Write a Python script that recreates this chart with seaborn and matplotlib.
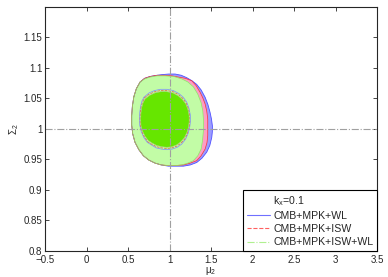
import matplotlib
matplotlib.use("Agg")
import matplotlib.pyplot as plt
import seaborn as sns
import pandas as pd

# outer (95%) contour boundaries
wl_outer_x = [0.570, 0.600, 0.645, 0.700, 0.765, 0.850, 0.906, 0.990, 1.066, 1.140, 1.207,
              1.270, 1.327, 1.380, 1.428, 1.462, 1.488, 1.505, 1.516, 1.515, 1.508, 1.485,
              1.448, 1.390, 1.327, 1.250, 1.167, 1.070, 0.986, 0.900, 0.825, 0.750,
              0.685, 0.630, 0.584, 0.556, 0.544, 0.544, 0.552]
wl_outer_y = [1.053, 1.066, 1.077, 1.083, 1.086, 1.088, 1.089, 1.090, 1.090, 1.088, 1.084,
              1.079, 1.073, 1.064, 1.052, 1.040, 1.027, 1.016, 1.005, 0.995, 0.986, 0.973,
              0.962, 0.952, 0.945, 0.941, 0.939, 0.939, 0.939, 0.941, 0.944, 0.949,
              0.956, 0.966, 0.978, 0.992, 1.006, 1.022, 1.037]

isw_outer_x = [0.570, 0.600, 0.645, 0.700, 0.765, 0.850, 0.946, 1.030, 1.106, 1.190, 1.267,
               1.320, 1.368, 1.400, 1.428, 1.448, 1.460, 1.460, 1.450, 1.428, 1.380,
               1.327, 1.250, 1.167, 1.070, 0.986, 0.900, 0.825, 0.750, 0.685, 0.630,
               0.584, 0.556, 0.544, 0.544, 0.552]
isw_outer_y = [1.053, 1.066, 1.077, 1.083, 1.086, 1.088, 1.088, 1.087, 1.085, 1.083, 1.079,
               1.071, 1.060, 1.051, 1.041, 1.029, 1.016, 0.989, 0.977, 0.967, 0.956,
               0.948, 0.944, 0.941, 0.940, 0.940, 0.941, 0.944, 0.949, 0.956, 0.966,
               0.978, 0.992, 1.006, 1.022, 1.037]

all_outer_x = [0.570, 0.600, 0.645, 0.700, 0.765, 0.850, 0.946, 1.050, 1.147, 1.220, 1.287,
               1.340, 1.380, 1.400, 1.408, 1.408, 1.398, 1.380, 1.340, 1.287, 1.220,
               1.147, 1.070, 0.986, 0.900, 0.825, 0.750, 0.685, 0.630, 0.584, 0.556,
               0.544, 0.544, 0.552]
all_outer_y = [1.053, 1.066, 1.077, 1.082, 1.085, 1.087, 1.087, 1.086, 1.082, 1.077, 1.069,
               1.057, 1.043, 1.030, 1.015, 0.998, 0.982, 0.967, 0.956, 0.948, 0.944,
               0.941, 0.940, 0.940, 0.941, 0.944, 0.949, 0.956, 0.966, 0.978, 0.992,
               1.006, 1.022, 1.037]

# inner (68%) contour boundaries
wl_inner_x = [0.692, 0.752, 0.820, 0.893, 0.967, 1.044, 1.113, 1.165, 1.207, 1.234, 1.250,
              1.251, 1.242, 1.222, 1.192, 1.145, 1.093, 1.033, 0.966, 0.902, 0.838,
              0.779, 0.732, 0.690, 0.658, 0.641, 0.638, 0.641, 0.651, 0.668]
wl_inner_y = [1.052, 1.059, 1.063, 1.065, 1.065, 1.063, 1.058, 1.052, 1.044, 1.034, 1.023,
              1.012, 1.002, 0.992, 0.983, 0.975, 0.970, 0.967, 0.966, 0.967, 0.969,
              0.974, 0.978, 0.986, 0.996, 1.006, 1.016, 1.027, 1.037, 1.046]

isw_inner_x = [0.698, 0.756, 0.822, 0.894, 0.966, 1.042, 1.110, 1.160, 1.201, 1.227, 1.242,
               1.243, 1.234, 1.215, 1.185, 1.140, 1.089, 1.031, 0.966, 0.903, 0.841,
               0.784, 0.738, 0.697, 0.665, 0.648, 0.645, 0.648, 0.658, 0.675]
isw_inner_y = [1.051, 1.057, 1.061, 1.063, 1.063, 1.061, 1.056, 1.050, 1.042, 1.033, 1.022,
               1.012, 1.002, 0.993, 0.984, 0.977, 0.972, 0.969, 0.968, 0.969, 0.971,
               0.975, 0.979, 0.987, 0.996, 1.006, 1.016, 1.026, 1.036, 1.044]

all_inner_x = [0.705, 0.760, 0.825, 0.895, 0.966, 1.040, 1.106, 1.155, 1.195, 1.220, 1.235,
               1.236, 1.227, 1.208, 1.179, 1.135, 1.086, 1.030, 0.966, 0.905, 0.845,
               0.790, 0.745, 0.705, 0.673, 0.656, 0.653, 0.656, 0.665, 0.682]
all_inner_y = [1.049, 1.055, 1.059, 1.061, 1.061, 1.059, 1.054, 1.048, 1.041, 1.032, 1.022,
               1.012, 1.003, 0.994, 0.986, 0.979, 0.974, 0.971, 0.970, 0.971, 0.973,
               0.977, 0.981, 0.988, 0.997, 1.006, 1.016, 1.026, 1.035, 1.043]

labels = ["CMB+MPK+WL", "CMB+MPK+ISW", "CMB+MPK+ISW+WL"]
legend_title = "$\\mathregular{k_x}$=0.1"
ref_mu, ref_sigma = 1.0, 1.0

sns.set_style("ticks")
plt.rcParams["font.family"] = ["Liberation Sans", "DejaVu Sans"]
plt.rcParams["xtick.direction"] = "in"
plt.rcParams["ytick.direction"] = "in"

fig = plt.figure(figsize=(3.88, 2.77), dpi=100)
ax = fig.add_axes([0.116, 0.094, 0.856, 0.881])


def closed(xs, ys):
    return pd.DataFrame({"x": xs + xs[:1], "y": ys + ys[:1]})


ax.fill(wl_outer_x, wl_outer_y, color="#9c9cff", lw=0)
ax.fill(isw_outer_x, isw_outer_y, color="#ff9cc4", lw=0)
ax.fill(all_outer_x, all_outer_y, color="#c2fca6", lw=0)
ax.fill(all_inner_x, all_inner_y, color="#66e600", lw=0)

for xs, ys, col, ls, w in [(wl_outer_x, wl_outer_y, "#5050ff", "-", 0.6),
                           (isw_outer_x, isw_outer_y, "#ff3030", "-", 0.5),
                           (all_outer_x, all_outer_y, "#8ce868", "-", 0.5),
                           (wl_inner_x, wl_inner_y, "#7c8cff", "-", 0.5),
                           (isw_inner_x, isw_inner_y, "#e06040", "--", 0.5),
                           (all_inner_x, all_inner_y, "#9cd070", "-", 0.4)]:
    sns.lineplot(data=closed(xs, ys), x="x", y="y", sort=False, estimator=None,
                 color=col, lw=w, ls=ls, ax=ax)

ax.axvline(ref_mu, color="#a0a0a0", ls="-.", lw=0.8)
ax.axhline(ref_sigma, color="#a0a0a0", ls="-.", lw=0.8)

h0, = ax.plot([], [], color="none")
h1, = ax.plot([], [], color="#7070ff", lw=0.8, ls="-")
h2, = ax.plot([], [], color="#ff6060", lw=0.8, ls="--")
h3, = ax.plot([], [], color="#b0f090", lw=0.8, ls="-.")
leg = ax.legend([h0, h1, h2, h3], [legend_title] + labels, loc="lower right",
                fontsize=7.6, frameon=True, fancybox=False,
                framealpha=1, edgecolor="black", borderpad=0.35, labelspacing=0.3,
                handlelength=2.2, handletextpad=0.3, borderaxespad=0)
leg.get_frame().set_linewidth(0.8)

ax.set_xlim(-0.5, 3.5)
ax.set_ylim(0.8, 1.2)
ax.set_xticks([-0.5, 0, 0.5, 1, 1.5, 2, 2.5, 3, 3.5])
ax.set_xticklabels(["\u22120.5", "0", "0.5", "1", "1.5", "2", "2.5", "3", "3.5"])
ax.set_yticks([0.8, 0.85, 0.9, 0.95, 1, 1.05, 1.1, 1.15])
ax.set_yticklabels(["0.8", "0.85", "0.9", "0.95", "1", "1.05", "1.1", "1.15"])
ax.tick_params(labelsize=7, length=3, width=0.6, top=True, right=True, pad=2)
ax.tick_params(axis="x", pad=3)
ax.set_xlabel("$\\mathregular{\\mu_2}$", fontsize=7, labelpad=0)
ax.set_ylabel("$\\mathregular{\\Sigma_2}$", fontsize=7, labelpad=2)
for s in ax.spines.values():
    s.set_linewidth(0.8)

fig.savefig("out.png", dpi=100)
